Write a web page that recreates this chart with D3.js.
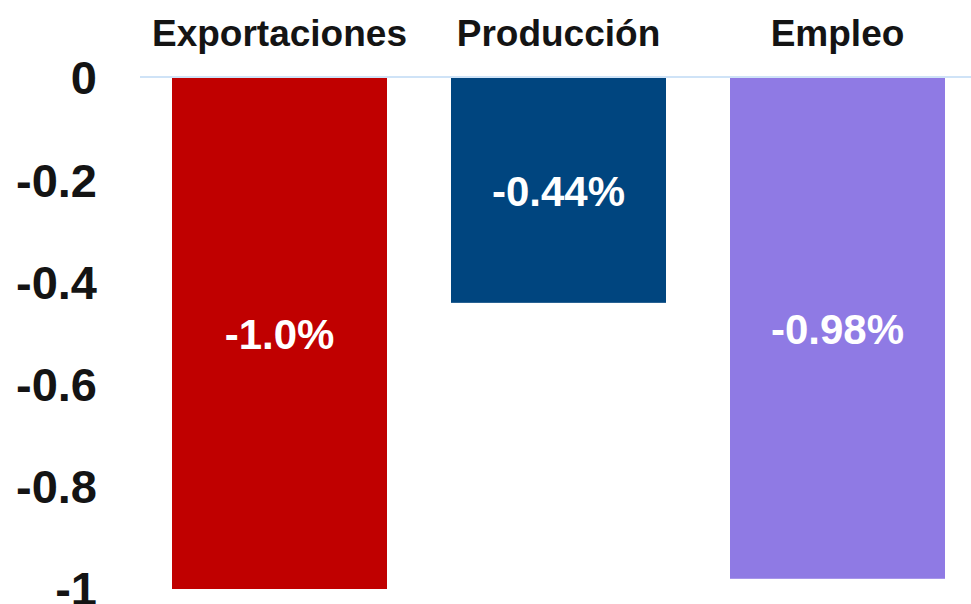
<!DOCTYPE html>
<html>
<head>
<meta charset="utf-8">
<script src="https://cdn.jsdelivr.net/npm/d3@7"></script>
<style>
  html, body { margin: 0; padding: 0; background: #ffffff; }
  svg { display: block; }
  text { font-family: "Liberation Sans", Arial, sans-serif; font-weight: bold; }
</style>
</head>
<body>
<svg id="chart" width="971" height="604"></svg>
<script>
// Variación por indicador (%)
const categories = ["Exportaciones", "Producción", "Empleo"];
const values = [-1.0, -0.44, -0.98];
const valueLabels = ["-1.0%", "-0.44%", "-0.98%"];
const barColors = ["#c00000", "#00457f", "#8f7ae4"];
const tickValues = [0, -0.2, -0.4, -0.6, -0.8, -1];
const tickLabels = ["0", "-0.2", "-0.4", "-0.6", "-0.8", "-1"];

const svg = d3.select("#chart");

const x = d3.scaleBand()
  .domain(categories)
  .range([140, 977])
  .paddingInner(0.2294)
  .paddingOuter(0.1147);

const y = d3.scaleLinear()
  .domain([0, -1])
  .range([78, 589]);

// Eje Y: etiquetas sin líneas
const yAxis = d3.axisLeft(y)
  .tickValues(tickValues)
  .tickFormat((d, i) => tickLabels[i])
  .tickSize(0)
  .tickPadding(0);

const gy = svg.append("g")
  .attr("transform", "translate(97,0)")
  .call(yAxis);
gy.select(".domain").remove();
gy.selectAll("text")
  .attr("fill", "#141414")
  .attr("font-size", 47)
  .attr("dy", "0.34em")
  .style("font-family", "'Liberation Sans', Arial, sans-serif")
  .style("font-weight", "bold");

// Barras
svg.append("g")
  .selectAll("rect")
  .data(categories)
  .join("rect")
  .attr("x", d => x(d))
  .attr("y", (d, i) => y(Math.max(0, values[i])))
  .attr("width", x.bandwidth())
  .attr("height", (d, i) => Math.abs(y(values[i]) - y(0)))
  .attr("fill", (d, i) => barColors[i]);

// Línea de cero
svg.append("line")
  .attr("x1", 140)
  .attr("x2", 971)
  .attr("y1", y(0) - 1)
  .attr("y2", y(0) - 1)
  .attr("stroke", "#cfe3f7")
  .attr("stroke-width", 2);

// Nombres de categoría arriba
svg.append("g")
  .selectAll("text")
  .data(categories)
  .join("text")
  .attr("x", d => x(d) + x.bandwidth() / 2)
  .attr("y", 46)
  .attr("text-anchor", "middle")
  .attr("font-size", 37)
  .attr("fill", "#141414")
  .text(d => d);

// Valores dentro de las barras
svg.append("g")
  .selectAll("text")
  .data(categories)
  .join("text")
  .attr("x", d => x(d) + x.bandwidth() / 2)
  .attr("y", (d, i) => (y(0) + y(values[i])) / 2)
  .attr("dy", "0.36em")
  .attr("text-anchor", "middle")
  .attr("font-size", 42)
  .attr("fill", "#ffffff")
  .text((d, i) => valueLabels[i]);
</script>
</body>
</html>
